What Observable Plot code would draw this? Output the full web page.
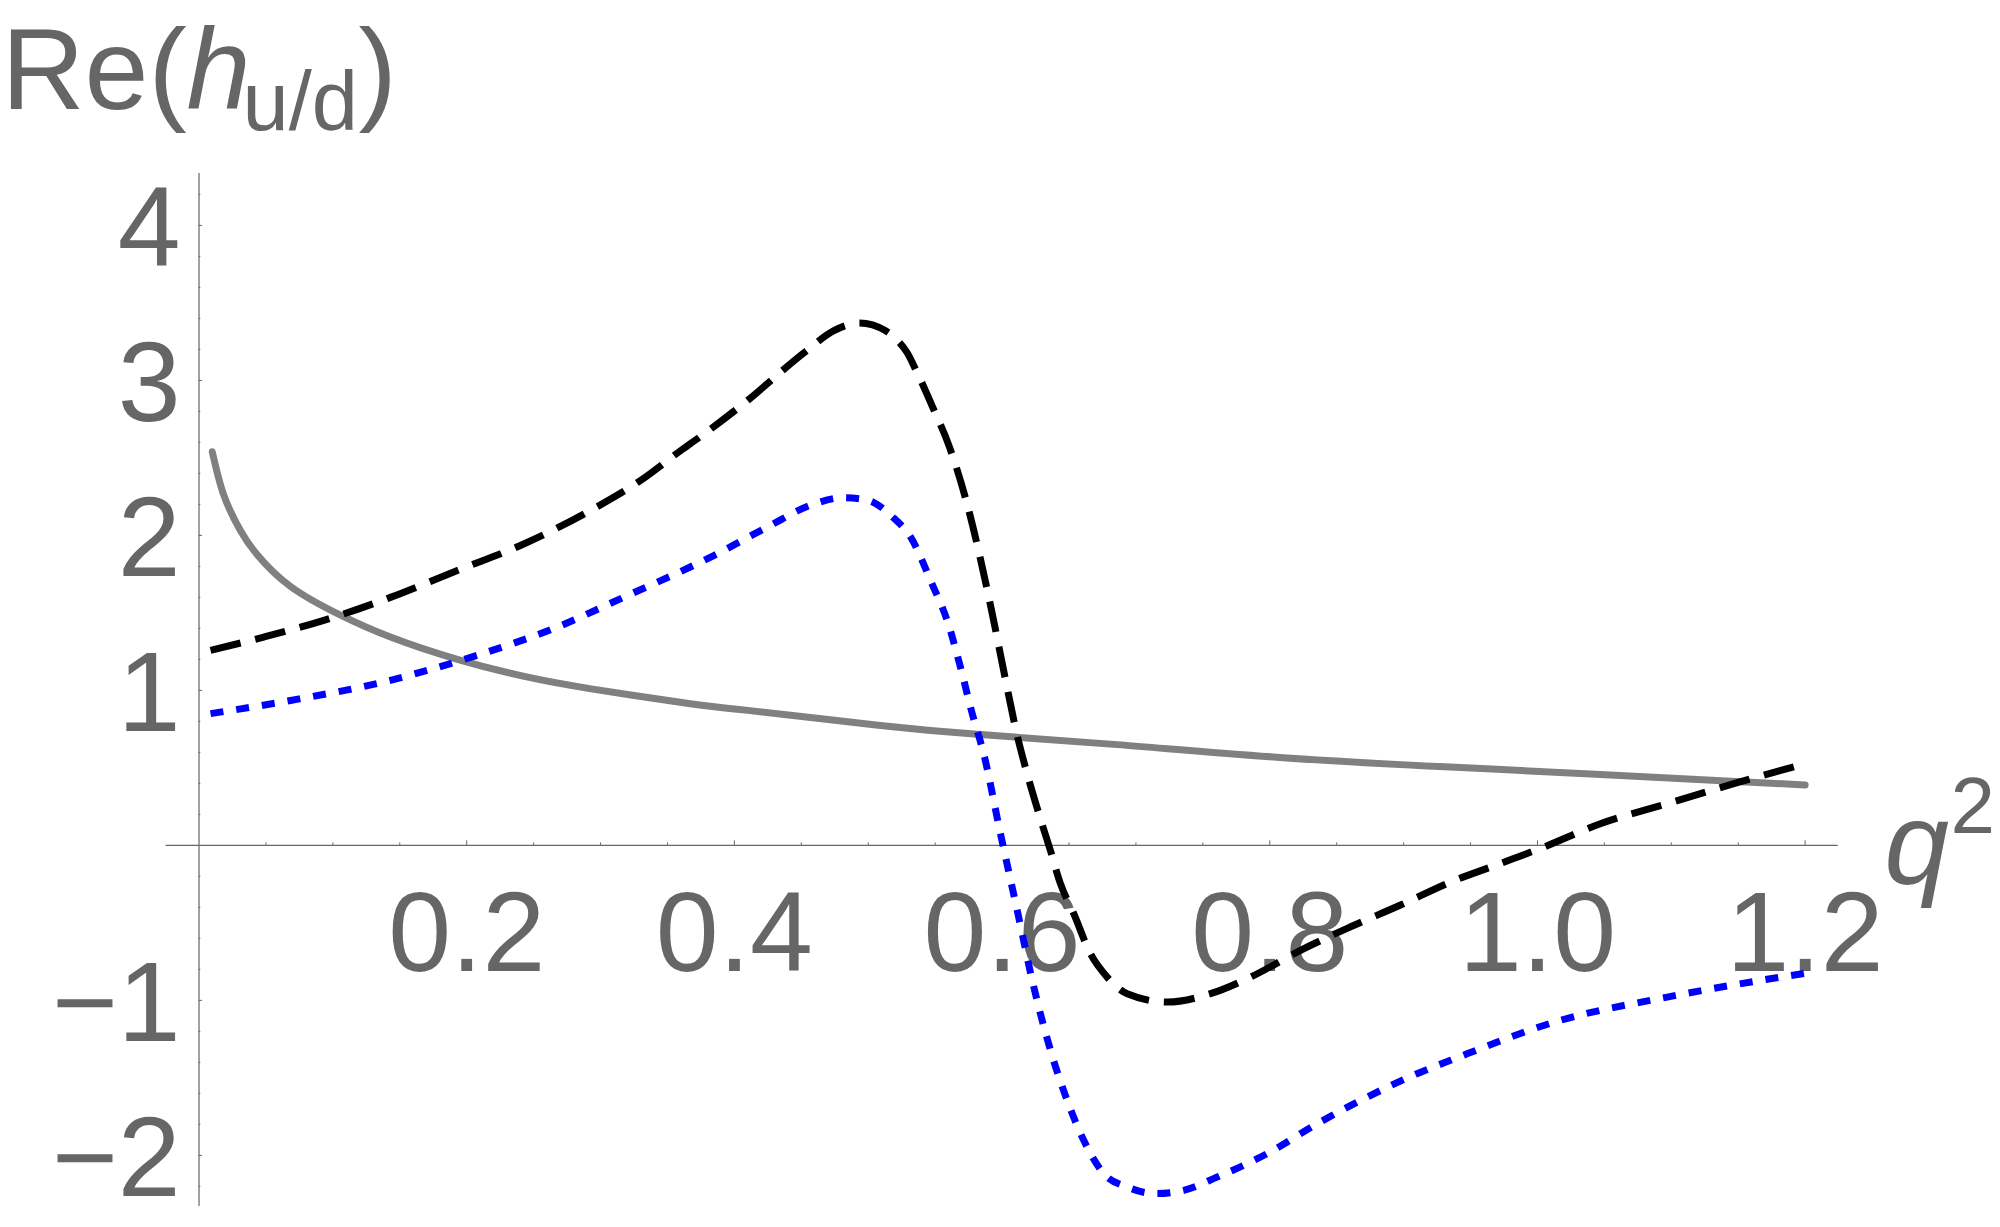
<!DOCTYPE html>
<html>
<head>
<meta charset="utf-8">
<script src="https://cdn.jsdelivr.net/npm/d3@7"></script>
<script src="https://cdn.jsdelivr.net/npm/@observablehq/plot@0.6"></script>
<style>
  html, body { margin: 0; padding: 0; background: #fff; }
  #chart svg { display: block; }
</style>
</head>
<body>
<div id="chart"></div>
<script>
// ---- Data ----
const solidQ2 = [0.0099, 0.0185, 0.031, 0.0435, 0.0684, 0.1057, 0.143, 0.193, 0.243, 0.293, 0.367, 0.41, 0.509, 0.584, 0.686, 0.81, 0.935, 1.047, 1.2];
const solidRe = [2.54, 2.26, 2.03, 1.875, 1.67, 1.485, 1.344, 1.2, 1.09, 1.01, 0.914, 0.871, 0.774, 0.715, 0.65, 0.566, 0.505, 0.458, 0.39];

const dashedQ2 = [0.0086, 0.0484, 0.0932, 0.143, 0.193, 0.243, 0.2925, 0.33, 0.36, 0.374, 0.404, 0.4537, 0.474, 0.4935, 0.513, 0.5216, 0.529, 0.536, 0.548, 0.5607, 0.573, 0.583, 0.593, 0.603, 0.611, 0.6188, 0.6287, 0.636, 0.6436, 0.6536, 0.666, 0.6785, 0.6935, 0.7233, 0.7557, 0.7856, 0.823, 0.86, 0.8977, 0.935, 0.972, 1.0047, 1.047, 1.097, 1.1467, 1.2];
const dashedRe = [1.258, 1.344, 1.452, 1.60, 1.774, 1.946, 2.161, 2.355, 2.548, 2.634, 2.83, 3.19, 3.32, 3.37, 3.32, 3.26, 3.18, 3.06, 2.83, 2.57, 2.23, 1.88, 1.48, 1.05, 0.72, 0.46, 0.17, -0.03, -0.247, -0.441, -0.699, -0.85, -0.957, -1.011, -0.957, -0.85, -0.677, -0.527, -0.385, -0.237, -0.118, -0.011, 0.14, 0.269, 0.398, 0.527];

const dottedQ2 = [0.0086, 0.0684, 0.143, 0.2053, 0.2676, 0.317, 0.367, 0.3846, 0.4238, 0.4586, 0.481, 0.4985, 0.518, 0.5316, 0.548, 0.559, 0.5689, 0.5777, 0.5863, 0.5988, 0.6113, 0.6237, 0.6362, 0.6486, 0.661, 0.676, 0.6935, 0.7146, 0.7357, 0.7607, 0.798, 0.8354, 0.8728, 0.91, 0.935, 1.017, 1.097, 1.1816, 1.2];
const dottedRe = [0.85, 0.935, 1.065, 1.22, 1.408, 1.60, 1.796, 1.87, 2.05, 2.20, 2.243, 2.23, 2.12, 1.99, 1.68, 1.45, 1.15, 0.85, 0.59, 0.075, -0.419, -0.914, -1.323, -1.645, -1.903, -2.118, -2.204, -2.247, -2.226, -2.14, -1.989, -1.796, -1.624, -1.473, -1.387, -1.129, -0.979, -0.85, -0.825];

const xTickLabels = [0.2, 0.4, 0.6, 0.8, 1.0, 1.2];
const yTickLabels = [-2, -1, 1, 2, 3, 4];

const titleParts = ["Re(", "h", "u/d", ")"];
const xAxisLabelParts = ["q", "2"];

// ---- Layout ----
const W = 2000, H = 1227;
const mL = 165.6, mR = 162.3, mT = 173, mB = 21;
const xDom = [-0.0246, 1.2247], yDom = [-2.33, 4.335];
const pxPerY = (H - mT - mB) / (yDom[1] - yDom[0]);
const pxPerX = (W - mL - mR) / (xDom[1] - xDom[0]);
const axisColor = "#666666";
const font = "'Liberation Sans', Arial, Helvetica, sans-serif";

const toRows = (xs, ys) => xs.map((x, i) => ({x, y: ys[i]}));
const solid = toRows(solidQ2, solidRe);
const dashed = toRows(dashedQ2, dashedRe);
const dotted = toRows(dottedQ2, dottedRe);

const xTicks = d3.range(1, 25).map(i => +(i * 0.05).toFixed(2));
const yTicks = d3.range(-11, 22).map(i => +(i * 0.2).toFixed(1)).filter(v => v !== 0);
const isMajorX = v => Math.abs(v * 5 - Math.round(v * 5)) < 1e-6;
const isMajorY = v => Math.abs(v - Math.round(v)) < 1e-6;
const fmtY = v => (v < 0 ? "\u2212" + Math.abs(v) : String(v));

// absolute-position text helper (relative to the frame's top-left corner)
const absText = (str, px, baseline, opts) => Plot.text([str], {
  frameAnchor: "top-left", text: d => d, dx: px - mL, dy: baseline - mT,
  lineAnchor: "bottom", textAnchor: "start", fill: axisColor, fontFamily: font, ...opts
});

const lineW = 7;
const chart = Plot.plot({
  width: W, height: H,
  marginLeft: mL, marginRight: mR, marginTop: mT, marginBottom: mB,
  x: {domain: xDom, axis: null},
  y: {domain: yDom, axis: null},
  style: {background: "#fff", fontFamily: font, overflow: "visible"},
  marks: [
    // axes through the origin
    Plot.ruleY([0], {x1: xDom[0], x2: xDom[1], stroke: axisColor, strokeWidth: 1.2}),
    Plot.ruleX([0], {y1: yDom[0], y2: yDom[1], stroke: axisColor, strokeWidth: 1.2}),
    Plot.ruleX(xTicks, {x: d => d, y1: 0, y2: d => (isMajorX(d) ? 4.5 : 2.5) / pxPerY, stroke: axisColor, strokeWidth: 1}),
    Plot.ruleY(yTicks, {y: d => d, x1: 0, x2: d => (isMajorY(d) ? 3.5 : 1.8) / pxPerX, stroke: axisColor, strokeWidth: 1}),
    // tick labels
    Plot.text(xTickLabels, {x: d => d, y: 0, text: d => d.toFixed(1), fontSize: 113, fill: axisColor,
      lineAnchor: "top", textAnchor: "middle", dy: 45}),
    Plot.text(yTickLabels, {x: 0, y: d => d, text: fmtY, fontSize: 113, fill: axisColor,
      lineAnchor: "middle", textAnchor: "end", dx: -18.5, dy: 4}),
    // curves
    Plot.line(solid, {x: "x", y: "y", stroke: "#808080", strokeWidth: lineW, curve: "natural"}),
    Plot.line(dashed, {x: "x", y: "y", stroke: "#000000", strokeWidth: lineW, curve: "monotone-x",
      strokeDasharray: "31,15", strokeLinecap: "butt"}),
    Plot.line(dotted, {x: "x", y: "y", stroke: "#0000ff", strokeWidth: lineW, curve: "monotone-x",
      strokeDasharray: "13,13", strokeLinecap: "butt"}),
    // title  Re(h_{u/d})
    absText(titleParts[0], 1, 108, {fontSize: 115}),
    absText(titleParts[1], 186, 108, {fontSize: 115, fontStyle: "italic"}),
    absText(titleParts[2], 242, 129, {fontSize: 83}),
    absText(titleParts[3], 358, 108, {fontSize: 115}),
    // x axis label q^2
    absText(xAxisLabelParts[0], 1884, 883.5, {fontSize: 116, fontStyle: "italic"}),
    absText(xAxisLabelParts[1], 1950, 832, {fontSize: 80})
  ]
});
document.getElementById("chart").appendChild(chart);
</script>
</body>
</html>
